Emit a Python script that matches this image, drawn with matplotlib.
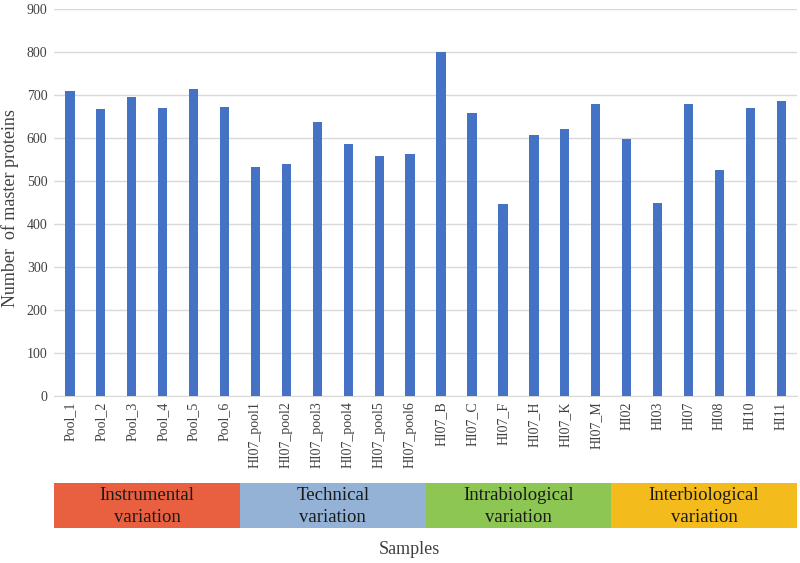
import matplotlib
matplotlib.use("Agg")
import matplotlib.pyplot as plt
import numpy as np

plt.rcParams['font.family'] = ['Liberation Serif', 'DejaVu Serif']

samples = ["Pool_1", "Pool_2", "Pool_3", "Pool_4", "Pool_5", "Pool_6",
           "HI07_pool1", "HI07_pool2", "HI07_pool3", "HI07_pool4", "HI07_pool5", "HI07_pool6",
           "HI07_B", "HI07_C", "HI07_F", "HI07_H", "HI07_K", "HI07_M",
           "HI02", "HI03", "HI07", "HI08", "HI10", "HI11"]
proteins = [710, 667, 696, 669, 713, 671,
            532, 540, 638, 587, 559, 563,
            799, 659, 446, 607, 621, 679,
            597, 448, 679, 526, 669, 685]
groups = ["Instrumental\nvariation", "Technical\nvariation",
          "Intrabiological\nvariation", "Interbiological\nvariation"]
group_sizes = [6, 6, 6, 6]
group_colors = ["#E8603F", "#93B2D6", "#8DC653", "#F3BB1C"]
yticks = [0, 100, 200, 300, 400, 500, 600, 700, 800, 900]

fig = plt.figure(figsize=(8, 5.63), dpi=100)
ax = fig.add_axes([0.068, 0.2966, 0.928, 0.6874])

x = np.arange(len(samples))
ax.bar(x, proteins, width=0.3, color="#4472C4", zorder=3)
ax.set_xlim(-0.5, len(samples) - 0.5)
ax.set_ylim(0, 900)
ax.set_yticks(yticks)
ax.grid(axis='y', color='#D9D9D9', linewidth=1, zorder=0)
ax.set_xticks(x)
ax.set_xticklabels(samples, rotation=90, fontsize=10, color='#404040')
ax.tick_params(axis='both', length=0, labelsize=10, colors='#404040')
ax.tick_params(axis='x', pad=4)
ax.tick_params(axis='y', pad=5)
for s in ['top', 'right', 'left']:
    ax.spines[s].set_visible(False)
ax.spines['bottom'].set_color('#D9D9D9')

fig.text(0.012, 1 - 208 / 563, "Number  of master proteins", rotation=90,
         ha='center', va='center', fontsize=13, color='#404040')

# group bands
bax = fig.add_axes([0.068, 0.0622, 0.928, 0.0805])
bax.set_xlim(-0.5, len(samples) - 0.5)
bax.set_ylim(0, 1)
bax.axis('off')
start = -0.5
for g, n, c in zip(groups, group_sizes, group_colors):
    bax.axvspan(start, start + n, color=c, lw=0)
    bax.text(start + n / 2, 0.47, g, ha='center', va='center', fontsize=13.5,
             color='#1a1a1a', linespacing=1.35)
    start += n

fig.text(0.512, 1 - 550 / 563, "Samples", ha='center', va='center',
         fontsize=13, color='#404040')

fig.savefig("out.png", dpi=100)
